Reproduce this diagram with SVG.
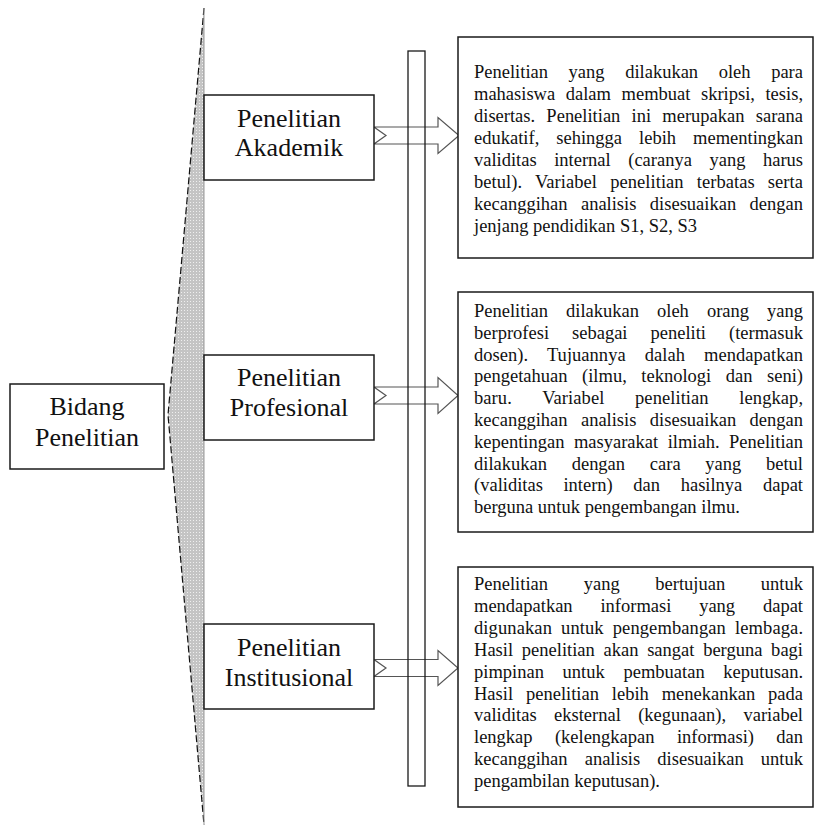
<svg xmlns="http://www.w3.org/2000/svg" width="815" height="826" viewBox="0 0 815 826">
<defs>
<pattern id="dots" width="3" height="3" patternUnits="userSpaceOnUse">
<rect width="3" height="3" fill="#c4c4c4"/>
<rect x="1" y="1" width="1" height="1" fill="#efefef"/>
</pattern>
<style>
.box{fill:#fff;stroke:#1a1a1a;stroke-width:1.5}
.lbl{font-family:'Liberation Serif','Times New Roman',serif;font-size:26px;fill:#111;text-anchor:middle}
.desc{font-family:'Liberation Serif','Times New Roman',serif;font-size:18.5px;fill:#111}
.arrow{fill:#fff;stroke:#555;stroke-width:1.2;stroke-linejoin:miter}
.bar{fill:none;stroke:#1a1a1a;stroke-width:1.3}
</style>
</defs>
<rect width="815" height="826" fill="#fff"/>

<g id="brace">
<polygon points="204,8 168,415 204,825" fill="url(#dots)"/>
<polyline points="204,8 168,415 204,825" fill="none" stroke="#111" stroke-width="1.2" stroke-dasharray="7,3"/>
<line x1="204" y1="8" x2="204" y2="825" stroke="#999" stroke-width="1"/>
</g>

<g id="bidang">
<rect class="box" x="10" y="384" width="154" height="85"/>
<text class="lbl" x="87" y="415">Bidang</text>
<text class="lbl" x="87" y="446">Penelitian</text>
</g>

<g id="connectors">
<polygon class="arrow" points="374,127 438,127 438,117.5 459,135.5 438,153.5 438,144 374,144 386,135.5"/>
<polygon class="arrow" points="374,387 438,387 438,377.5 458,395.5 438,413.5 438,404 374,404 386,395.5"/>
<polygon class="arrow" points="374,659.5 438,659.5 438,650.5 458,668 438,685.5 438,676.5 374,676.5 386,668"/>
</g>

<g id="akademik">
<rect class="box" x="204" y="95" width="170" height="85"/>
<text class="lbl" x="289" y="127">Penelitian</text>
<text class="lbl" x="289" y="156">Akademik</text>
</g>

<g id="profesional">
<rect class="box" x="204" y="355" width="170" height="85"/>
<text class="lbl" x="289" y="386">Penelitian</text>
<text class="lbl" x="289" y="416">Profesional</text>
</g>

<g id="institusional">
<rect class="box" x="204" y="624" width="170" height="85"/>
<text class="lbl" x="289" y="656">Penelitian</text>
<text class="lbl" x="289" y="686">Institusional</text>
</g>

<g id="bar">
<rect class="bar" x="408" y="51" width="17" height="735"/>
</g>

<g id="desc-akademik">
<rect class="box" x="458" y="37" width="355" height="221"/>
<text class="desc" x="474" y="78" word-spacing="15.97" textLength="329" lengthAdjust="spacing">Penelitian yang dilakukan oleh para</text>
<text class="desc" x="474" y="100" word-spacing="5.94" textLength="329" lengthAdjust="spacing">mahasiswa dalam membuat skripsi, tesis,</text>
<text class="desc" x="474" y="122" word-spacing="6.6" textLength="329" lengthAdjust="spacing">disertas. Penelitian ini merupakan sarana</text>
<text class="desc" x="474" y="144" word-spacing="12.38" textLength="329" lengthAdjust="spacing">edukatif, sehingga lebih mementingkan</text>
<text class="desc" x="474" y="166" word-spacing="12.9" textLength="329" lengthAdjust="spacing">validitas internal (caranya yang harus</text>
<text class="desc" x="474" y="188" word-spacing="8.4" textLength="329" lengthAdjust="spacing">betul). Variabel penelitian terbatas serta</text>
<text class="desc" x="474" y="210" word-spacing="8.8" textLength="329" lengthAdjust="spacing">kecanggihan analisis disesuaikan dengan</text>
<text class="desc" x="474" y="232">jenjang pendidikan S1, S2, S3</text>
</g>

<g id="desc-profesional">
<rect class="box" x="458" y="292" width="355" height="240"/>
<text class="desc" x="474" y="317" word-spacing="13.4" textLength="329" lengthAdjust="spacing">Penelitian dilakukan oleh orang yang</text>
<text class="desc" x="474" y="338.8" word-spacing="18.39" textLength="329" lengthAdjust="spacing">berprofesi sebagai peneliti (termasuk</text>
<text class="desc" x="474" y="360.6" word-spacing="14.45" textLength="329" lengthAdjust="spacing">dosen). Tujuannya dalah mendapatkan</text>
<text class="desc" x="474" y="382.4" word-spacing="9.93" textLength="329" lengthAdjust="spacing">pengetahuan (ilmu, teknologi dan seni)</text>
<text class="desc" x="474" y="404.2" word-spacing="25.93" textLength="329" lengthAdjust="spacing">baru. Variabel penelitian lengkap,</text>
<text class="desc" x="474" y="426" word-spacing="8.8" textLength="329" lengthAdjust="spacing">kecanggihan analisis disesuaikan dengan</text>
<text class="desc" x="474" y="447.8" word-spacing="4.85" textLength="329" lengthAdjust="spacing">kepentingan masyarakat ilmiah. Penelitian</text>
<text class="desc" x="474" y="469.6" word-spacing="20.09" textLength="329" lengthAdjust="spacing">dilakukan dengan cara yang betul</text>
<text class="desc" x="474" y="491.4" word-spacing="15.97" textLength="329" lengthAdjust="spacing">(validitas intern) dan hasilnya dapat</text>
<text class="desc" x="474" y="513.2">berguna untuk pengembangan ilmu.</text>
</g>

<g id="desc-institusional">
<rect class="box" x="458" y="567" width="355" height="240"/>
<text class="desc" x="474" y="590" word-spacing="31.05" textLength="329" lengthAdjust="spacing">Penelitian yang bertujuan untuk</text>
<text class="desc" x="474" y="611.9" word-spacing="23.19" textLength="329" lengthAdjust="spacing">mendapatkan informasi yang dapat</text>
<text class="desc" x="474" y="633.8" word-spacing="4.3" textLength="329" lengthAdjust="spacing">digunakan untuk pengembangan lembaga.</text>
<text class="desc" x="474" y="655.7" word-spacing="4.04" textLength="329" lengthAdjust="spacing">Hasil penelitian akan sangat berguna bagi</text>
<text class="desc" x="474" y="677.6" word-spacing="14.09" textLength="329" lengthAdjust="spacing">pimpinan untuk pembuatan keputusan.</text>
<text class="desc" x="474" y="699.5" word-spacing="8.26" textLength="329" lengthAdjust="spacing">Hasil penelitian lebih menekankan pada</text>
<text class="desc" x="474" y="721.4" word-spacing="12.74" textLength="329" lengthAdjust="spacing">validitas eksternal (kegunaan), variabel</text>
<text class="desc" x="474" y="743.3" word-spacing="17.71" textLength="329" lengthAdjust="spacing">lengkap (kelengkapan informasi) dan</text>
<text class="desc" x="474" y="765.2" word-spacing="12.56" textLength="329" lengthAdjust="spacing">kecanggihan analisis disesuaikan untuk</text>
<text class="desc" x="474" y="787.1">pengambilan keputusan).</text>
</g>
</svg>
